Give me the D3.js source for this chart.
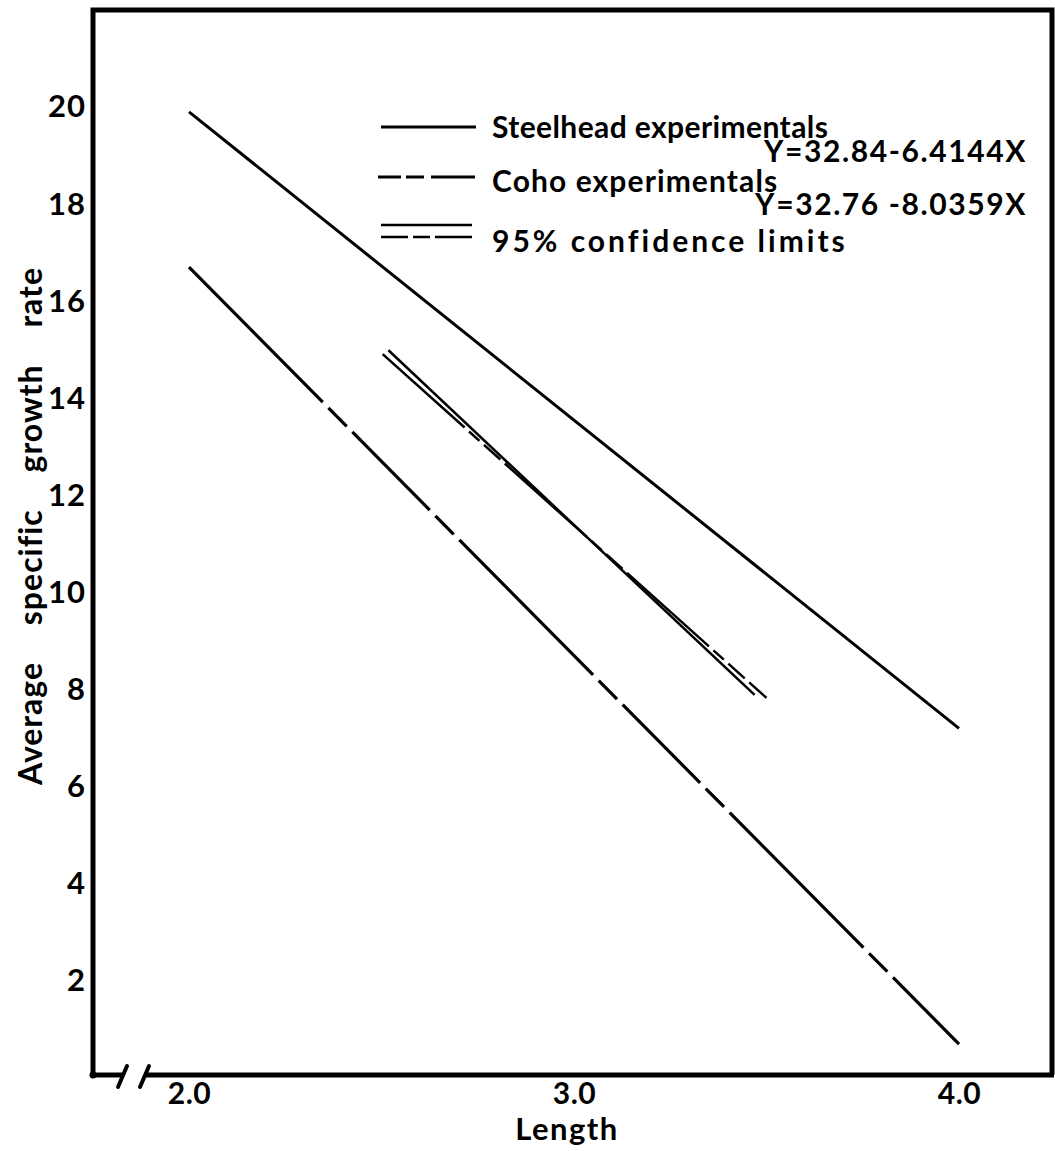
<!DOCTYPE html>
<html>
<head>
<meta charset="utf-8">
<script src="https://cdn.jsdelivr.net/npm/d3@7"></script>
<style>
  body { margin: 0; background: #fff; }
  svg text { font-family: Lato, "Open Sans", sans-serif; font-weight: 700; fill: #000; }
</style>
</head>
<body>
<svg></svg>
<script>
// data
let xTicks = [2.0, 3.0, 4.0]
let yTicks = [2, 4, 6, 8, 10, 12, 14, 16, 18, 20]

let steelhead = [{x: 2.0, y: 19.9}, {x: 4.0, y: 7.2}]
let coho = [{x: 2.0, y: 16.7}, {x: 4.0, y: 0.7}]
let ciSolid = [{x: 2.518, y: 14.99}, {x: 3.469, y: 7.89}]
let ciDashed = [{x: 2.503, y: 14.91}, {x: 3.50, y: 7.83}]

let legendLabels = ['Steelhead experimentals', 'Coho experimentals', '95% confidence limits']
let equations = ['Y=32.84-6.4144X', 'Y=32.76 -8.0359X']

let width = 1055,
    height = 1151;

let svg = d3.select('body')
            .select('svg')
            .attr('width', width)
            .attr('height', height)

//x scale
let xScale = d3.scaleLinear()
      .domain([2, 4])
      .range([189, 959])

//y scale
let yScale = d3.scaleLinear()
      .domain([0, 20])
      .range([1078, 107])

let frame = {left: 93, right: 1052, top: 10, bottom: 1075}

// frame (top, left, right)
svg.append('path')
   .attr('d', `M${frame.left},${frame.bottom} L${frame.left},${frame.top} L${frame.right},${frame.top} L${frame.right},${frame.bottom}`)
   .attr('fill', 'none')
   .attr('stroke', '#000')
   .attr('stroke-width', 5)

// bottom axis with break
svg.append('line')
   .attr('x1', frame.left - 2).attr('x2', 122)
   .attr('y1', frame.bottom).attr('y2', frame.bottom)
   .attr('stroke', '#000').attr('stroke-width', 5)
svg.append('line')
   .attr('x1', 144).attr('x2', frame.right + 2)
   .attr('y1', frame.bottom).attr('y2', frame.bottom)
   .attr('stroke', '#000').attr('stroke-width', 5)
svg.selectAll('.brk')
   .data([0, 22])
   .enter()
   .append('line')
   .attr('x1', d => 118 + d).attr('y1', 1087)
   .attr('x2', d => 127 + d).attr('y2', 1066)
   .attr('stroke', '#000').attr('stroke-width', 4)
   .attr('stroke-linecap', 'round')
svg.append('circle')
   .attr('cx', frame.left).attr('cy', frame.bottom).attr('r', 3.5)

// axes
let xAxis = d3.axisBottom(xScale)
              .tickValues(xTicks)
              .tickFormat(d3.format('.1f'))
              .tickSize(0)
              .tickPadding(8)
let yAxis = d3.axisLeft(yScale)
              .tickValues(yTicks)
              .tickSize(0)
              .tickPadding(7)

let gx = svg.append('g')
   .attr('transform', 'translate(0,' + frame.bottom + ')')
   .call(xAxis)
gx.select('.domain').remove()
gx.selectAll('text')
  .attr('font-size', 30)
  .attr('font-family', 'Lato')
  .attr('font-weight', 700)
  .attr('letter-spacing', 0.5)

let gy = svg.append('g')
   .attr('transform', 'translate(' + frame.left + ',0)')
   .call(yAxis)
gy.select('.domain').remove()
gy.selectAll('text')
  .attr('font-size', 31)
  .attr('font-family', 'Lato')
  .attr('font-weight', 700)
  .attr('letter-spacing', 1)

// axis titles
svg.append('text')
   .attr('x', 567).attr('y', 1140)
   .attr('text-anchor', 'middle')
   .attr('font-size', 31)
   .attr('letter-spacing', 1.5)
   .text('Length')

svg.append('text')
   .attr('transform', 'translate(42,526) rotate(-90)')
   .attr('text-anchor', 'middle')
   .attr('font-size', 32)
   .attr('letter-spacing', 1)
   .attr('word-spacing', 28)
   .text('Average specific growth rate')

// regression lines
let line = d3.line()
    .x(d => xScale(d.x))
    .y(d => yScale(d.y))

svg.append('path')
   .datum(steelhead)
   .attr('d', line)
   .attr('fill', 'none').attr('stroke', '#000').attr('stroke-width', 3)

svg.append('path')
   .datum(coho)
   .attr('d', line)
   .attr('fill', 'none').attr('stroke', '#000').attr('stroke-width', 3.2)
   .attr('stroke-dasharray', '190,8,26,8,110,8,26,8')

svg.append('path')
   .datum(ciSolid)
   .attr('d', line)
   .attr('fill', 'none').attr('stroke', '#000').attr('stroke-width', 2.5)

svg.append('path')
   .datum(ciDashed)
   .attr('d', line)
   .attr('fill', 'none').attr('stroke', '#000').attr('stroke-width', 2.5)
   .attr('stroke-dasharray', '110,6,14,6,22,6')

// legend
let legend = svg.append('g')
let swatchX = [381, 476]
let sampleY = [127, 177]

legend.append('line')
   .attr('x1', swatchX[0]).attr('x2', swatchX[1])
   .attr('y1', sampleY[0]).attr('y2', sampleY[0])
   .attr('stroke', '#000').attr('stroke-width', 3)
legend.append('line')
   .attr('x1', swatchX[0] - 3).attr('x2', swatchX[1])
   .attr('y1', sampleY[1]).attr('y2', sampleY[1])
   .attr('stroke', '#000').attr('stroke-width', 3)
   .attr('stroke-dasharray', '23,5,18,7,44')
legend.append('line')
   .attr('x1', swatchX[0]).attr('x2', swatchX[1] - 4)
   .attr('y1', 225).attr('y2', 225)
   .attr('stroke', '#000').attr('stroke-width', 2.5)
legend.append('line')
   .attr('x1', swatchX[0]).attr('x2', swatchX[1] - 4)
   .attr('y1', 237).attr('y2', 237)
   .attr('stroke', '#000').attr('stroke-width', 2.5)
   .attr('stroke-dasharray', '27,5,17,5,40')

legend.selectAll('.lab')
   .data(legendLabels)
   .enter()
   .append('text')
   .attr('x', 492)
   .attr('y', (d, i) => [138, 192, 252][i])
   .attr('font-size', 30)
   .attr('letter-spacing', (d, i) => [0.4, 1.1, 3][i])
   .text(d => d)

legend.selectAll('.eq')
   .data(equations)
   .enter()
   .append('text')
   .attr('x', 1027)
   .attr('y', (d, i) => [162, 215][i])
   .attr('text-anchor', 'end')
   .attr('font-size', 30)
   .attr('letter-spacing', 1.6)
   .text(d => d)
</script>
</body>
</html>
